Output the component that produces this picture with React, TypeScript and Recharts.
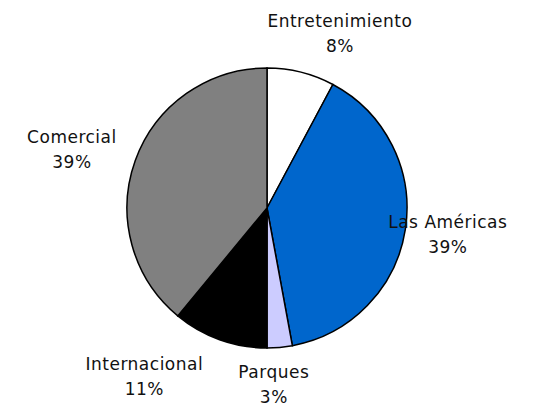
import { Cell, Pie, PieChart } from 'recharts';

const segments = ['Entretenimiento', 'Las Américas', 'Parques', 'Internacional', 'Comercial'];
const shares = [7.8, 39.3, 2.9, 11.0, 39.0];
const colors = ['#FFFFFF', '#0066CC', '#CCCCFF', '#000000', '#808080'];

const data = segments.map((name, i) => ({ name, value: shares[i] }));

// label tweaks so they sit like the original "best fit" placement
const labelNudge = [
  [28, 2],
  [-2, -4],
  [-10, -10],
  [-60, -8],
  [-21, 2],
];

const RADIAN = Math.PI / 180;

const renderLabel = (props: any) => {
  const { cx, cy, midAngle, outerRadius, name, percent, index } = props;
  const r = outerRadius + 45;
  const x = cx + r * Math.cos(-midAngle * RADIAN) + labelNudge[index][0];
  const y = cy + r * Math.sin(-midAngle * RADIAN) + labelNudge[index][1];
  return (
    <text
      x={x}
      y={y}
      textAnchor="middle"
      fill="#111"
      fontSize={17}
      letterSpacing={0.5}
      fontFamily="'DejaVu Sans', sans-serif"
    >
      <tspan x={x} dy={-4}>{name}</tspan>
      <tspan x={x} dy={25}>{`${Math.round(percent * 100)}%`}</tspan>
    </text>
  );
};

const App = () => {
  return (
    <div style={{ position: 'absolute', left: 0, top: 0, background: '#fff' }}>
      <PieChart width={557} height={406} margin={{ top: 0, right: 0, bottom: 0, left: 0 }}>
        <Pie
          data={data}
          dataKey="value"
          nameKey="name"
          cx={267}
          cy={208}
          outerRadius={140}
          startAngle={90}
          endAngle={-270}
          stroke="#000"
          strokeWidth={1.5}
          label={renderLabel}
          labelLine={false}
          isAnimationActive={false}
        >
          {data.map((entry, i) => (
            <Cell key={entry.name} fill={colors[i]} />
          ))}
        </Pie>
      </PieChart>
    </div>
  );
};

export default App;
